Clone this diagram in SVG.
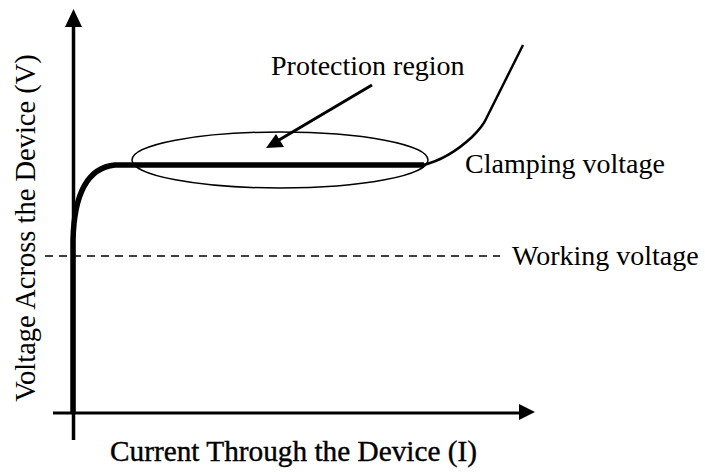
<svg xmlns="http://www.w3.org/2000/svg" width="705" height="473" viewBox="0 0 705 473">
<style>
text{font-family:"Liberation Serif","Times New Roman",serif;font-size:28px;fill:#000}
.ax{stroke:#000;fill:none}
</style>
<rect width="705" height="473" fill="#fff"/>
<g id="axes">
<line class="ax" x1="73.5" y1="440" x2="73.5" y2="24" stroke-width="3.5"/>
<polygon points="73.5,9 65,27 82,27" fill="#000"/>
<line class="ax" x1="53" y1="413" x2="521" y2="413" stroke-width="3"/>
<polygon points="535,412 519,404 519,420" fill="#000"/>
</g>
<g id="connectors">
<line class="ax" x1="45" y1="256" x2="500" y2="256" stroke-width="1.5" stroke-dasharray="8,6"/>
<ellipse class="ax" cx="280" cy="160" rx="148" ry="28" stroke-width="1.5"/>
<path class="ax" d="M73,413 L73,240 C74,200 84,168 115,165 L424,165" stroke-width="5.5"/>
<path class="ax" d="M423,165 C440,161 458,150 472,137 C478,131 483,126 486,119 L523,45" stroke-width="2.5"/>
<line class="ax" x1="372" y1="85" x2="279" y2="140" stroke-width="3"/>
<polygon points="266,148 276,134 284,147" fill="#000"/>
</g>
<g id="labels">
<text x="271" y="75">Protection region</text>
<text x="465" y="173">Clamping voltage</text>
<text x="512" y="265">Working voltage</text>
<text x="110" y="461" textLength="367" lengthAdjust="spacingAndGlyphs" style="font-size:29.5px;stroke:#000;stroke-width:0.4">Current Through the Device (I)</text>
<text transform="translate(35,228) rotate(-90)" text-anchor="middle" style="font-size:28.5px">Voltage Across the Device (V)</text>
</g>
</svg>
